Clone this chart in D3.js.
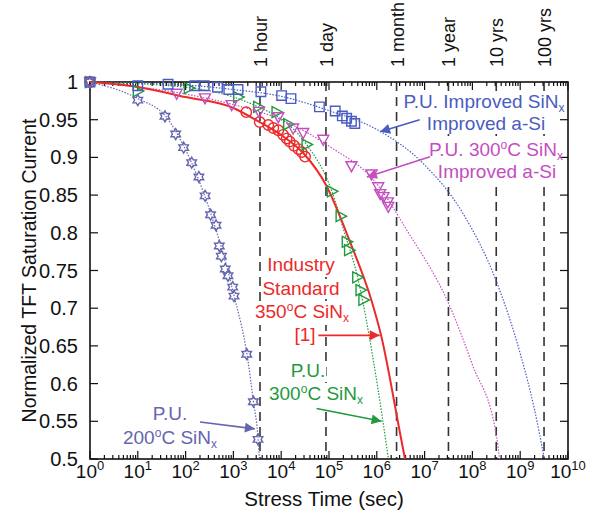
<!DOCTYPE html>
<html>
<head>
<meta charset="utf-8">
<script src="https://cdn.jsdelivr.net/npm/d3@7"></script>
<style>
  body { margin: 0; background: #fff; }
  text { font-family: "Liberation Sans", Arial, sans-serif; }
</style>
</head>
<body>
<div id="chart"></div>
<script>
// chart size
const width = 591;
const height = 514;

// measured data: stress time (sec) and normalized saturation current
const blueT = [1, 10, 43, 155, 245, 465, 800, 1250, 3760, 10200, 16000, 63000, 135000, 190000, 234000, 295000, 347000];
const blueV = [1, 0.995, 0.997, 0.995, 0.995, 0.993, 0.99, 0.99, 0.987, 0.982, 0.978, 0.967, 0.9615, 0.955, 0.952, 0.948, 0.945];
const magT = [1, 65, 254, 920, 3430, 8700, 17800, 28800, 75900, 295000, 776000, 1070000, 1175000, 1380000, 1700000, 1740000];
const magV = [1, 0.985, 0.979, 0.97, 0.961, 0.954, 0.939, 0.933, 0.924, 0.889, 0.878, 0.861, 0.852, 0.848, 0.841, 0.835];
const redT = [1, 1860, 3550, 5370, 6840, 8710, 10970, 13030, 15140, 18620, 22910, 26920, 31620];
const redV = [1, 0.96, 0.947, 0.943, 0.939, 0.936, 0.93, 0.925, 0.921, 0.9155, 0.911, 0.907, 0.901];
const greenT = [1, 10, 117, 1260, 3300, 8000, 14000, 34000, 115000, 175000, 235000, 263000, 390000, 457000, 525000];
const greenV = [1, 0.988, 0.992, 0.98, 0.967, 0.96, 0.944, 0.917, 0.855, 0.822, 0.788, 0.777, 0.741, 0.724, 0.711];
const starT = [1, 10, 37, 62, 91, 134, 190, 256, 333, 433, 507, 560, 676, 770, 966, 1030, 1900, 2620, 3270];
const starV = [1, 0.976, 0.9545, 0.931, 0.913, 0.893, 0.874, 0.849, 0.824, 0.81, 0.7825, 0.769, 0.752, 0.743, 0.728, 0.716, 0.639, 0.576, 0.526];

// fitted curves
const blueFitT = [1, 100, 1000, 1e4, 1e5, 1e6, 1e7, 6.3e7, 3.2e8, 1e9, 2e9, 3.2e9];
const blueFitV = [1, 0.996, 0.99, 0.981, 0.962, 0.937, 0.89, 0.826, 0.735, 0.64, 0.565, 0.5];
const magFitT = [1, 100, 1000, 1e4, 1e5, 1e6, 4.2e6, 3.4e7, 1e8, 3.2e8, 3.7e8];
const magFitV = [1, 0.984, 0.97, 0.95, 0.915, 0.865, 0.804, 0.702, 0.625, 0.53, 0.5];
const redFitT = [1, 10, 100, 1000, 3270, 10000, 31500, 86500, 275000, 794000, 1225000, 3060000, 3890000];
const redFitV = [1, 0.9934, 0.98, 0.9655, 0.948, 0.9297, 0.9032, 0.8634, 0.788, 0.708, 0.6645, 0.5345, 0.5];
const greenFitT = [1, 100, 1000, 3300, 14000, 34000, 115000, 200000, 400000, 800000, 1300000, 1750000];
const greenFitV = [1, 0.993, 0.98, 0.967, 0.944, 0.917, 0.855, 0.805, 0.74, 0.64, 0.556, 0.5];
const starFitT = [1, 10, 40, 100, 300, 1000, 2000, 2600, 3300, 3500];
const starFitV = [1, 0.978, 0.953, 0.91, 0.835, 0.72, 0.632, 0.578, 0.525, 0.5];

// reference time marks
const markLabels = ["1 hour", "1 day", "1 month", "1 year", "10 yrs", "100 yrs"];
const markTimes = [3600, 86400, 2592000, 31536000, 315360000, 3153600000];

// tick values
const yTicks = [1, 0.95, 0.9, 0.85, 0.8, 0.75, 0.7, 0.65, 0.6, 0.55, 0.5];
const xExponents = [0, 1, 2, 3, 4, 5, 6, 7, 8, 9, 10];

const colors = {
  blue: "#4a5cc2",
  magenta: "#c44ec0",
  red: "#ec2a2a",
  green: "#1f9a3c",
  star: "#6565b0"
};

const svg = d3.select("#chart")
  .append("svg")
  .attr("width", width)
  .attr("height", height);

// plot area
const pLeft = 90, pRight = 568, pTop = 82, pBottom = 459;

const x = d3.scaleLog().domain([1, 1e10]).range([pLeft, pRight]);
const y = d3.scaleLinear().domain([0.5, 1]).range([pBottom, pTop]);

// clip for curves
svg.append("clipPath").attr("id", "plot-clip")
  .append("rect")
  .attr("x", pLeft).attr("y", pTop - 6)
  .attr("width", pRight - pLeft).attr("height", pBottom - pTop + 6);

// arrowheads
const defs = svg.append("defs");
Object.entries(colors).forEach(([k, c]) => {
  defs.append("marker")
    .attr("id", "arrow-" + k)
    .attr("viewBox", "0 0 10 10")
    .attr("refX", 10).attr("refY", 5)
    .attr("markerWidth", 14).attr("markerHeight", 10)
    .attr("markerUnits", "userSpaceOnUse")
    .attr("orient", "auto")
    .append("path")
    .attr("d", "M0,0 L10,5 L0,10 Z")
    .attr("fill", c);
});

// time mark dashed lines
svg.append("g")
  .selectAll("line")
  .data(markTimes)
  .enter()
  .append("line")
  .attr("x1", d => x(d)).attr("x2", d => x(d))
  .attr("y1", pTop).attr("y2", pBottom)
  .attr("stroke", "#333")
  .attr("stroke-width", 1.6)
  .attr("stroke-dasharray", "9,6");

// white boxes behind the annotations (they hide the dashed lines)
const boxLayer = svg.append("g");

// time mark labels
svg.append("g")
  .selectAll("text")
  .data(markTimes)
  .enter()
  .append("text")
  .attr("transform", d => `translate(${x(d) + 7},${pTop - 15}) rotate(-90)`)
  .attr("font-size", 18)
  .attr("fill", "#111")
  .text((d, i) => markLabels[i]);

// axes frame
svg.append("rect")
  .attr("x", pLeft).attr("y", pTop)
  .attr("width", pRight - pLeft).attr("height", pBottom - pTop)
  .attr("fill", "none")
  .attr("stroke", "#111")
  .attr("stroke-width", 1.6);

// x ticks (major + minor), bottom and top
const minor = [];
xExponents.slice(0, -1).forEach(e => {
  for (let m = 2; m <= 9; m++) minor.push(m * Math.pow(10, e));
});
const majors = xExponents.map(e => Math.pow(10, e));
const tickG = svg.append("g").attr("stroke", "#111").attr("stroke-width", 1.2);
[[pBottom, -1], [pTop, 1]].forEach(([y0, dir]) => {
  tickG.selectAll(null).data(majors).enter().append("line")
    .attr("x1", d => x(d)).attr("x2", d => x(d))
    .attr("y1", y0).attr("y2", y0 + dir * 8);
  tickG.selectAll(null).data(minor).enter().append("line")
    .attr("x1", d => x(d)).attr("x2", d => x(d))
    .attr("y1", y0).attr("y2", y0 + dir * 4);
});
// y ticks, left and right
[[pLeft, 1], [pRight, -1]].forEach(([x0, dir]) => {
  tickG.selectAll(null).data(yTicks).enter().append("line")
    .attr("x1", x0).attr("x2", x0 + dir * 8)
    .attr("y1", d => y(d)).attr("y2", d => y(d));
});

// x tick labels
const xl = svg.append("g")
  .selectAll("text")
  .data(xExponents)
  .enter()
  .append("text")
  .attr("x", d => x(Math.pow(10, d)))
  .attr("y", 478)
  .attr("text-anchor", "middle")
  .attr("font-size", 19)
  .attr("fill", "#111");
xl.append("tspan").text("10");
xl.append("tspan").attr("dy", -8).attr("font-size", 13).text(d => d);

// y tick labels
svg.append("g")
  .selectAll("text")
  .data(yTicks)
  .enter()
  .append("text")
  .attr("x", pLeft - 12)
  .attr("y", d => y(d) + 7)
  .attr("text-anchor", "end")
  .attr("font-size", 20)
  .attr("fill", "#111")
  .text(d => d3.format("~g")(d));

// axis titles
svg.append("text")
  .attr("x", 324)
  .attr("y", 506)
  .attr("text-anchor", "middle")
  .attr("font-size", 20.5)
  .attr("fill", "#111")
  .text("Stress Time (sec)");

svg.append("text")
  .attr("transform", `translate(36,${(pTop + pBottom) / 2}) rotate(-90)`)
  .attr("text-anchor", "middle")
  .attr("font-size", 19.5)
  .attr("fill", "#111")
  .text("Normalized TFT Saturation Current");

// fitted curves
const line = d3.line()
  .x(d => x(d[0]))
  .y(d => y(d[1]))
  .curve(d3.curveMonotoneX);

const fits = [
  { t: blueFitT, v: blueFitV, c: colors.blue, dash: "1.5,1.5", w: 1.2 },
  { t: magFitT, v: magFitV, c: colors.magenta, dash: "1.5,1.5", w: 1.2 },
  { t: greenFitT, v: greenFitV, c: colors.green, dash: "1.5,1.5", w: 1.2 },
  { t: starFitT, v: starFitV, c: colors.star, dash: "1.5,1.5", w: 1.2 },
  { t: redFitT, v: redFitV, c: colors.red, dash: null, w: 2 }
];
const curveG = svg.append("g").attr("clip-path", "url(#plot-clip)");
fits.forEach(f => {
  curveG.append("path")
    .datum(f.t.map((t, i) => [t, f.v[i]]))
    .attr("d", line)
    .attr("fill", "none")
    .attr("stroke", f.c)
    .attr("stroke-width", f.w)
    .attr("stroke-dasharray", f.dash);
});

// marker shapes
const sqr = d3.symbol().type(d3.symbolSquare).size(90)();
const circ = d3.symbol().type(d3.symbolCircle).size(85)();
const triRight = "M-4.5,-5.5L6,0L-4.5,5.5Z";
const triDown = "M-5.5,-4L5.5,-4L0,6Z";
// hexagram (two overlapping triangles)
const hexStar = (() => {
  const r = 5.5, pts = [];
  for (let i = 0; i < 12; i++) {
    const a = -Math.PI / 2 + i * Math.PI / 6;
    const rr = i % 2 === 0 ? r : r * 0.58;
    pts.push([rr * Math.cos(a), rr * Math.sin(a)]);
  }
  return "M" + pts.map(p => p.join(",")).join("L") + "Z";
})();

const series = [
  { t: redT, v: redV, c: colors.red, shape: circ },
  { t: greenT, v: greenV, c: colors.green, shape: triRight },
  { t: magT, v: magV, c: colors.magenta, shape: triDown },
  { t: blueT, v: blueV, c: colors.blue, shape: sqr },
  { t: starT, v: starV, c: colors.star, shape: hexStar }
];
series.forEach(s => {
  svg.append("g")
    .selectAll("path")
    .data(s.t.map((t, i) => [t, s.v[i]]))
    .enter()
    .append("path")
    .attr("transform", d => `translate(${x(d[0])},${y(d[1])})`)
    .attr("d", s.shape)
    .attr("fill", "none")
    .attr("stroke", s.c)
    .attr("stroke-width", 1.4);
});

// annotation text with sup/sub parts
function richText(px, py, parts, color) {
  const t = svg.append("text")
    .attr("x", px).attr("y", py)
    .attr("text-anchor", "middle")
    .attr("font-size", 19)
    .attr("fill", color);
  let shift = 0;
  parts.forEach(p => {
    const s = t.append("tspan");
    let dy = 0;
    if (p.sup) { dy = -7 - shift; shift = -7; s.attr("font-size", 12); }
    else if (p.sub) { dy = 4 - shift; shift = 4; s.attr("font-size", 12); }
    else { dy = -shift; shift = 0; }
    if (dy) s.attr("dy", dy);
    s.text(p.s);
  });
  const b = t.node().getBBox();
  boxLayer.append("rect")
    .attr("x", b.x - 1).attr("y", b.y + 1)
    .attr("width", b.width + 2).attr("height", b.height - 1)
    .attr("fill", "#fff");
}

richText(484, 108, [{ s: "P.U. Improved SiN" }, { s: "x", sub: true }], colors.blue);
richText(486, 130, [{ s: "Improved a-Si" }], colors.blue);
richText(496, 156, [{ s: "P.U. 300" }, { s: "o", sup: true }, { s: "C SiN" }, { s: "x", sub: true }], colors.magenta);
richText(497, 178, [{ s: "Improved a-Si" }], colors.magenta);
richText(301, 271, [{ s: "Industry" }], colors.red);
richText(301, 295, [{ s: "Standard" }], colors.red);
richText(302, 318, [{ s: "350" }, { s: "o", sup: true }, { s: "C SiN" }, { s: "x", sub: true }], colors.red);
richText(305, 341, [{ s: "[1]" }], colors.red);
richText(308, 377, [{ s: "P.U." }], colors.green);
richText(316, 400, [{ s: "300" }, { s: "o", sup: true }, { s: "C SiN" }, { s: "x", sub: true }], colors.green);
richText(170, 420, [{ s: "P.U." }], colors.star);
richText(170, 444, [{ s: "200" }, { s: "o", sup: true }, { s: "C SiN" }, { s: "x", sub: true }], colors.star);

// arrows, in data coordinates
const arrows = [
  { from: [7.9e6, 0.95], to: [1.17e6, 0.934], k: "blue" },
  { from: [1.3e7, 0.901], to: [6.2e5, 0.874], k: "magenta" },
  { from: [6e4, 0.664], to: [1.15e6, 0.664], k: "red" },
  { from: [5.5e4, 0.567], to: [1.26e6, 0.55], k: "green" },
  { from: [200, 0.549], to: [2820, 0.54], k: "star" }
];
svg.append("g")
  .selectAll("line")
  .data(arrows)
  .enter()
  .append("line")
  .attr("x1", d => x(d.from[0])).attr("y1", d => y(d.from[1]))
  .attr("x2", d => x(d.to[0])).attr("y2", d => y(d.to[1]))
  .attr("stroke", d => colors[d.k])
  .attr("stroke-width", 1.6)
  .attr("marker-end", d => `url(#arrow-${d.k})`);
</script>
</body>
</html>
